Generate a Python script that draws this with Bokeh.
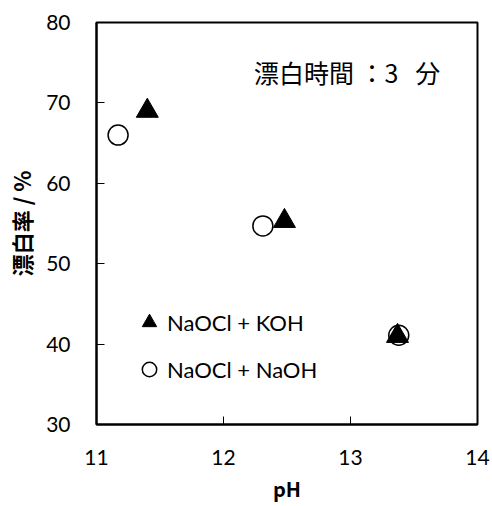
from bokeh.plotting import figure
from bokeh.models import Range1d, FixedTicker, Legend, LegendItem, Label
from bokeh.embed import file_html
from bokeh.resources import INLINE

# Data
ph_koh = [11.40, 12.48, 13.37]
bleach_koh = [69.0, 55.3, 41.0]
ph_naoh = [11.17, 12.31, 13.38]
bleach_naoh = [66.0, 54.7, 41.1]

x_ticks = [11, 12, 13, 14]
y_ticks = [30, 40, 50, 60, 70, 80]

label_koh = "NaOCl + KOH"
label_naoh = "NaOCl + NaOH"
note_text = "漂白時間\u00a0：3\u00a0\u00a0\u00a0分"
x_title = "pH"
y_title = "漂白率 / %"

num_font = "Lato"
cjk_font = "Noto Sans CJK JP"

p = figure(width=492, height=506, output_backend="svg", toolbar_location=None,
           x_range=Range1d(11, 14), y_range=Range1d(30, 80),
           min_border_left=96, min_border_right=15, min_border_top=22, min_border_bottom=82)
p.grid.visible = False
p.outline_line_color = "black"
p.outline_line_width = 2
p.background_fill_color = "white"
p.border_fill_color = "white"

for ax in (p.xaxis[0], p.yaxis[0]):
    ax.axis_line_color = "black"
    ax.axis_line_width = 2
    ax.major_tick_in = 8
    ax.major_tick_out = 0
    ax.major_tick_line_color = "black"
    ax.major_tick_line_width = 1
    ax.minor_tick_line_color = None
    ax.major_label_text_font = num_font
    ax.major_label_text_font_size = "21px"
    ax.major_label_text_color = "black"
    ax.axis_label_text_font = cjk_font
    ax.axis_label_text_font_style = "bold"
    ax.axis_label_text_color = "black"

p.xaxis[0].ticker = FixedTicker(ticks=x_ticks)
p.yaxis[0].ticker = FixedTicker(ticks=y_ticks)
p.xaxis[0].major_label_standoff = 25
p.yaxis[0].major_label_standoff = 26
p.xaxis[0].axis_label = x_title
p.yaxis[0].axis_label = y_title
p.xaxis[0].axis_label_text_font_size = "20px"
p.yaxis[0].axis_label_text_font_size = "22px"
p.xaxis[0].axis_label_standoff = 6
p.yaxis[0].axis_label_standoff = 6

r_naoh = p.scatter(ph_naoh, bleach_naoh, marker="circle", size=20,
                   fill_color="white", line_color="black", line_width=1.5)
r_koh = p.scatter(ph_koh, bleach_koh, marker="triangle", size=22,
                  fill_color="black", line_color="black", line_width=1)

legend = Legend(items=[LegendItem(label=label_koh, renderers=[r_koh]),
                       LegendItem(label=label_naoh, renderers=[r_naoh])],
                location=(35, 37), orientation="vertical",
                glyph_width=36, glyph_height=36, label_height=36,
                spacing=11, padding=0, margin=0, label_standoff=0,
                border_line_color=None, background_fill_alpha=0,
                label_text_font=num_font, label_text_font_size="22px",
                label_text_color="black", label_text_baseline="middle")
p.add_layout(legend, "center")

note = Label(x=12.24, y=73.8, text=note_text, text_font=cjk_font,
             text_font_size="25px", text_color="black", text_baseline="middle",
             text_align="left")
p.add_layout(note)

open("out.html", "w").write(file_html(p, INLINE))
